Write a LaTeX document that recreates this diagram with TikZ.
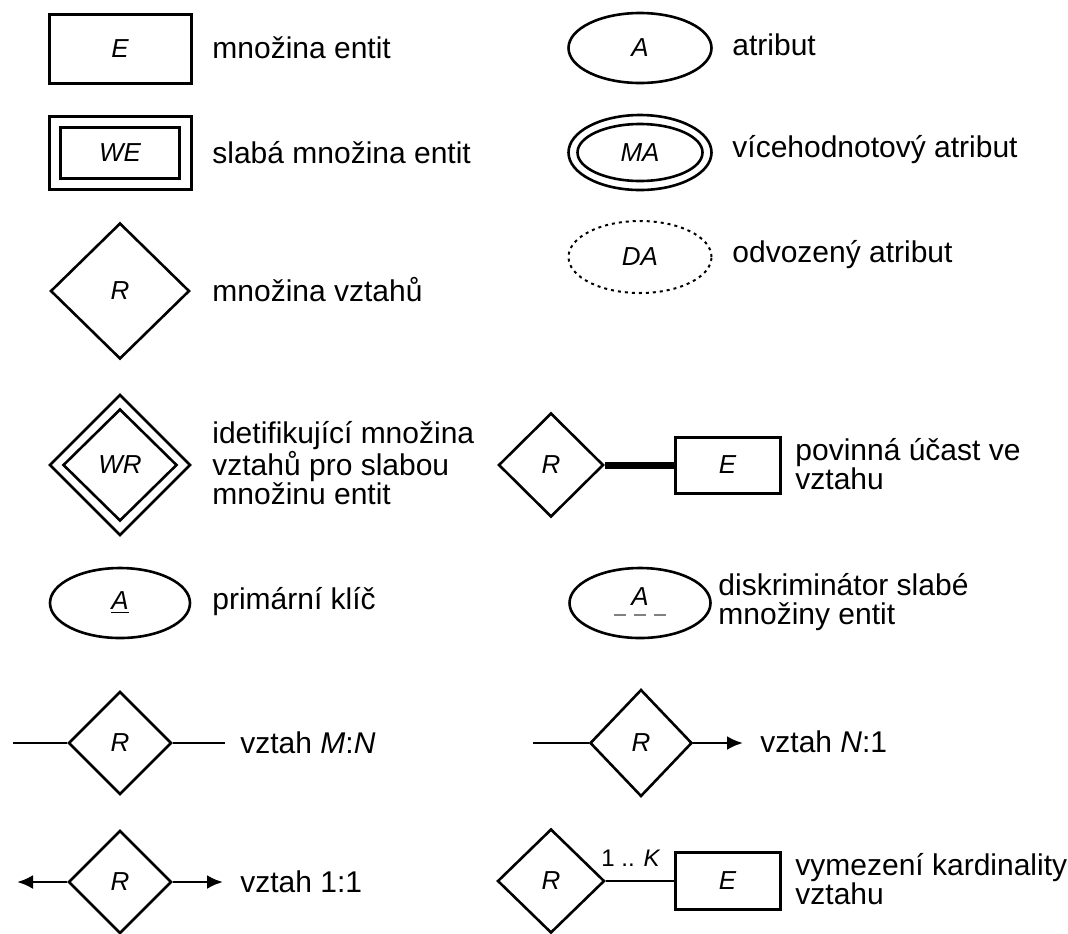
\documentclass[tikz,border=0pt]{standalone}
\usepackage{fontspec}
\setmainfont{Liberation Sans}
\usetikzlibrary{shapes.geometric,arrows.meta}
\newcommand\erlbl{\fontsize{13pt}{13pt}\selectfont\itshape}
\newcommand\ertxt{\fontsize{15pt}{14.5pt}\selectfont}
\newcommand\ersmall{\fontsize{12pt}{12pt}\selectfont}
\begin{document}
\begin{tikzpicture}[x=0.5pt,y=-0.5pt,
 ent/.style={draw, rectangle, line width=1.5pt, inner sep=0pt, font=\erlbl},
 rel/.style={draw, diamond, aspect=1, line width=1.3pt, inner sep=0pt, font=\erlbl},
 attr/.style={draw, ellipse, line width=1.3pt, inner sep=0pt, font=\erlbl},
 txt/.style={anchor=west, align=left, inner sep=0pt, font=\ertxt},
 conn/.style={line width=1.4pt},
 tip/.style={-{Latex[length=8pt,width=7pt]}}]
\useasboundingbox (0,0) rectangle (1068,933);
% left column
\node[ent, minimum width=71pt, minimum height=34.5pt] (e1) at (120,48.5) {E};
\node[txt] (t1) at (212,48) {množina entit};
\node[ent, minimum width=71pt, minimum height=36.5pt] (weo) at (120,152.5) {};
\node[ent, minimum width=59.5pt, minimum height=25.5pt] (wei) at (120,152.5) {WE};
\node[txt] (t2) at (212,153) {slabá množina entit};
\node[rel, minimum width=69.5pt, minimum height=68pt] (r1) at (120,291) {R};
\node[txt] (t3) at (212,290) {množina vztahů};
\node[rel, minimum width=70.5pt, minimum height=70.5pt] (wro) at (120,465) {};
\node[rel, minimum width=57pt, minimum height=56pt] (wri) at (120,465) {WR};
\node[txt] (t4) at (212,463) {idetifikující množina\\vztahů pro slabou\\množinu entit};
\node[attr, minimum width=70pt, minimum height=35pt] (pk) at (120,603) {\underline{A}};
\node[txt] (t5) at (212,602) {primární klíč};
\node[rel, minimum width=51.5pt, minimum height=51.5pt] (mn) at (120,743) {R};
\coordinate (mnl) at (13,743);
\coordinate (mnr) at (225,743);
\draw[conn] (mnl) -- (mn.west);
\draw[conn] (mn.east) -- (mnr);
\node[txt] (t6) at (240,743) {vztah \textit{M}:\textit{N}};
\node[rel, minimum width=51.5pt, minimum height=51.5pt] (oo) at (120,882) {R};
\coordinate (ool) at (17,882);
\coordinate (oor) at (223,882);
\draw[conn, tip] (oo.west) -- (ool);
\draw[conn, tip] (oo.east) -- (oor);
\node[txt] (t7) at (240,882) {vztah 1:1};
% right column
\node[attr, minimum width=71.5pt, minimum height=35pt] (a1) at (640,48) {A};
\node[txt] (t8) at (732,45) {atribut};
\node[attr, minimum width=71.5pt, minimum height=37.5pt] (mao) at (640,152.5) {};
\node[attr, minimum width=62.5pt, minimum height=28.5pt] (mai) at (640,152.5) {MA};
\node[txt] (t9) at (732,150) {vícehodnotový atribut};
\node[attr, line width=1pt, dash pattern=on 1.5pt off 2pt, minimum width=71.5pt, minimum height=36pt] (da) at (640,257) {DA};
\node[txt] (t10) at (732,255) {odvozený atribut};
\node[rel, minimum width=52.5pt, minimum height=52pt] (pr) at (551,465) {R};
\node[ent, minimum width=52.5pt, minimum height=28pt] (pe) at (727.5,465) {E};
\draw[line width=3.5pt] (pr.east) -- (pe.west);
\node[txt] (t11) at (795,464) {povinná účast ve\\vztahu};
\node[attr, minimum width=70.5pt, minimum height=35pt, text depth=6pt] (dk) at (640,603) {A};
\draw[gray, line width=1.2pt, dash pattern=on 6pt off 4pt] ([xshift=-13pt,yshift=-6pt]dk.center) -- ([xshift=13pt,yshift=-6pt]dk.center);
\node[txt] (t12) at (718,602) {diskriminátor slabé\\množiny entit};
\node[rel, minimum width=51pt, minimum height=53.5pt] (n1) at (641,743) {R};
\coordinate (n1l) at (533,743);
\coordinate (n1r) at (743,743);
\draw[conn] (n1l) -- (n1.west);
\draw[conn, tip] (n1.east) -- (n1r);
\node[txt] (t13) at (760,742) {vztah \textit{N}:1};
\node[rel, minimum width=53.5pt, minimum height=52pt] (kr) at (551,881) {R};
\node[ent, minimum width=52.5pt, minimum height=28.5pt] (ke) at (727.5,881) {E};
\draw[conn] (kr.east) -- (ke.west);
\node[font=\ersmall, inner sep=0pt] (kl) at (631,858) {1 .. \textit{K}};
\node[txt] (t14) at (795,879) {vymezení kardinality\\vztahu};
\end{tikzpicture}
\end{document}
